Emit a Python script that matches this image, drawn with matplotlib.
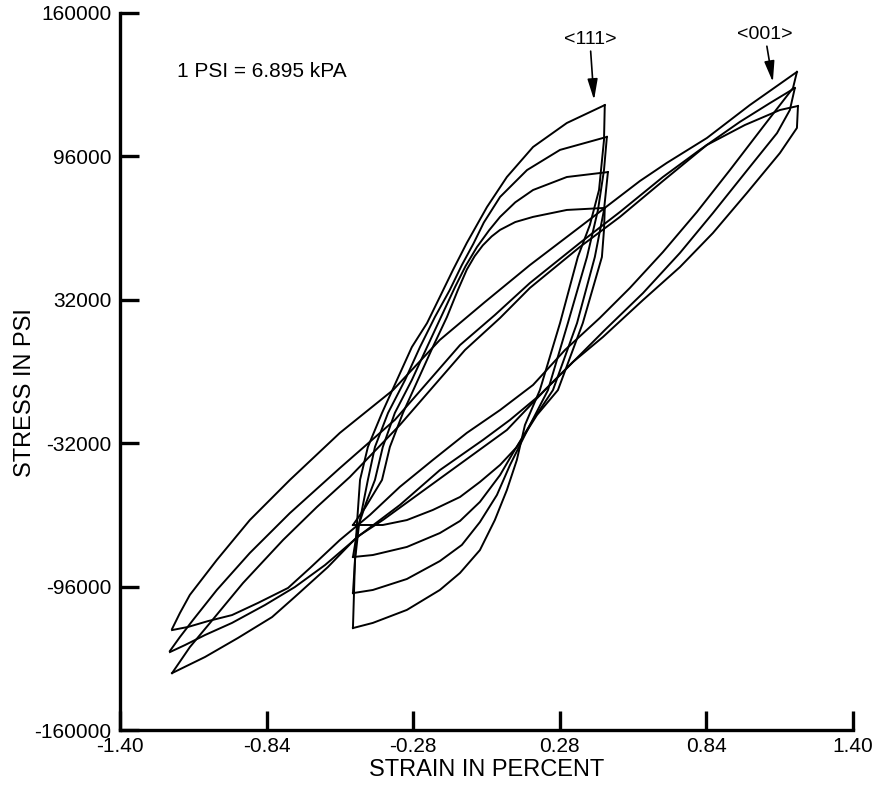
import matplotlib
matplotlib.use("Agg")
import matplotlib.pyplot as plt

plt.rcParams["font.family"] = ["Liberation Sans", "DejaVu Sans"]
plt.rcParams["axes.unicode_minus"] = False

# axis ticks
x_ticks = [-1.40, -0.84, -0.28, 0.28, 0.84, 1.40]
x_tick_labels = ["-1.40", "-0.84", "-0.28", "0.28", "0.84", "1.40"]
y_ticks = [-160000, -96000, -32000, 32000, 96000, 160000]
y_tick_labels = ["-160000", "-96000", "-32000", "32000", "96000", "160000"]

# <111> loops, loading branches (lower tip -> upper tip), strain in %, stress in psi
strain_111_up_1 = [-0.510, -0.506, -0.502, -0.495, -0.483, -0.453, -0.399, -0.342, -0.285,
                   -0.227, -0.178, -0.128, -0.075, 0.002, 0.078, 0.178, 0.307, 0.452]
stress_111_up_1 = [-114500, -98900, -82800, -68500, -48400, -33700, -18500, -3800, 10900,
                   21600, 33300, 45300, 57400, 73400, 86800, 100200, 110900, 118900]
strain_111_up_2 = [-0.510, -0.502, -0.487, -0.453, -0.426, -0.376, -0.311, -0.254, -0.197,
                   -0.140, -0.094, -0.050, -0.010, 0.052, 0.155, 0.281, 0.460]
stress_111_up_2 = [-98900, -84100, -68500, -48400, -33700, -18500, -3800, 10900, 24300,
                   36400, 47500, 57000, 66500, 77900, 89900, 98900, 104700]
strain_111_up_3 = [-0.510, -0.491, -0.460, -0.426, -0.396, -0.350, -0.285, -0.227, -0.170,
                   -0.120, -0.080, -0.036, 0.010, 0.052, 0.110, 0.178, 0.307, 0.464]
stress_111_up_3 = [-82800, -69400, -58700, -48400, -33700, -18500, -3800, 10900, 25200,
                   37700, 47000, 55600, 63000, 69000, 75500, 81000, 86800, 89000]
strain_111_up_4 = [-0.510, -0.464, -0.399, -0.369, -0.319, -0.262, -0.205, -0.151, -0.109,
                   -0.075, -0.045, -0.014, 0.020, 0.052, 0.110, 0.178, 0.307, 0.452]
stress_111_up_4 = [-68500, -60900, -48400, -33700, -18500, -3800, 10900, 24300, 36400,
                   45500, 51500, 56300, 60300, 63200, 66700, 69000, 72100, 73000]

# <111> loops, unloading branches (upper tip -> lower tip)
strain_111_down_1 = [0.452, 0.449, 0.430, 0.395, 0.349, 0.281, 0.204, 0.147, 0.116,
                     0.078, 0.032, -0.025, -0.101, -0.178, -0.304, -0.434, -0.510]
stress_111_down_1 = [118900, 103300, 81000, 65400, 51100, 21600, -8300, -23900, -39500,
                     -52900, -66300, -79700, -89900, -97500, -106400, -112200, -114500]
strain_111_down_2 = [0.460, 0.449, 0.426, 0.384, 0.311, 0.235, 0.166, 0.090, 0.040,
                     -0.025, -0.094, -0.178, -0.304, -0.434, -0.510]
stress_111_down_2 = [104700, 89900, 72100, 51100, 21600, -8300, -23900, -41700, -55100,
                     -67200, -77400, -84600, -92600, -97500, -98900]
strain_111_down_3 = [0.464, 0.449, 0.414, 0.346, 0.254, 0.178, 0.101, 0.052, -0.025,
                     -0.101, -0.178, -0.304, -0.434, -0.510]
stress_111_down_3 = [89000, 72100, 51100, 21600, -8300, -21600, -36400, -46200, -58200,
                     -66700, -72100, -78300, -81900, -82800]
strain_111_down_4 = [0.452, 0.449, 0.441, 0.368, 0.273, 0.193, 0.116, 0.052, -0.025,
                     -0.101, -0.205, -0.304, -0.396, -0.510]
stress_111_down_4 = [73000, 63200, 51100, 21600, -8300, -19400, -33700, -41700, -49300,
                     -56000, -61800, -66300, -68500, -68500]

# <001> loops, loading branches
strain_001_up_1 = [-1.201, -1.171, -1.133, -1.030, -0.904, -0.751, -0.560, -0.357, -0.178,
                   -0.006, 0.166, 0.357, 0.586, 0.689, 0.842, 1.006, 1.186]
stress_001_up_1 = [-114900, -107800, -99700, -84100, -66300, -48400, -27400, -8300, 14100,
                   31000, 47500, 64500, 85000, 93100, 104200, 118900, 133700]
strain_001_up_2 = [-1.209, -1.171, -1.121, -1.030, -0.904, -0.751, -0.560, -0.350, -0.101,
                   0.032, 0.166, 0.357, 0.510, 0.674, 0.815, 0.968, 1.083, 1.178]
stress_001_up_2 = [-124700, -118500, -110900, -97500, -81000, -63200, -43100, -21600, 11800,
                   25200, 39500, 57400, 71200, 86800, 98900, 111400, 119800, 126500]
strain_001_up_3 = [-1.201, -1.133, -1.056, -0.930, -0.777, -0.648, -0.522, -0.331, -0.082,
                   0.052, 0.166, 0.357, 0.510, 0.674, 0.842, 0.987, 1.121, 1.190]
stress_001_up_3 = [-134600, -123000, -112200, -94400, -75200, -60500, -47100, -23900, 9600,
                   23900, 37300, 55600, 69000, 85000, 101100, 110000, 116700, 118500]

# <001> loops, unloading branches
strain_001_down_1 = [1.186, 1.171, 1.056, 0.930, 0.804, 0.674, 0.548, 0.433, 0.300, 0.178,
                     0.052, -0.075, -0.205, -0.331, -0.445, -0.560, -0.674, -0.758, -0.873,
                     -0.972, -1.064, -1.140, -1.201]
stress_001_down_1 = [133700, 126500, 109100, 89900, 71200, 53300, 37300, 23900, 9600, -6000,
                     -17200, -27400, -39500, -51500, -64000, -75200, -87700, -96600, -103300,
                     -108700, -111400, -114000, -115400]
strain_001_down_2 = [1.178, 1.159, 1.110, 1.006, 0.865, 0.739, 0.598, 0.452, 0.319, 0.204,
                     0.090, -0.014, -0.178, -0.331, -0.483, -0.617, -0.732, -0.846, -0.972,
                     -1.075, -1.152, -1.209]
stress_001_down_2 = [126500, 116700, 106400, 91300, 70700, 52900, 35000, 18500, 2900, -10500,
                     -21600, -30600, -44000, -59600, -73000, -86400, -96200, -104200, -112200,
                     -117600, -122100, -125200]
strain_001_down_3 = [1.190, 1.186, 1.121, 0.995, 0.865, 0.739, 0.598, 0.445, 0.330, 0.223,
                     0.078, -0.159, -0.396, -0.495, -0.606, -0.732, -0.819, -0.949, -1.075,
                     -1.201]
stress_001_down_3 = [118500, 108700, 97500, 79700, 61800, 46600, 31900, 15400, 4200, -8300,
                     -26100, -46200, -66300, -73900, -87300, -100600, -109600, -118900, -127400,
                     -134600]

branches = [
    (strain_111_up_1, stress_111_up_1), (strain_111_up_2, stress_111_up_2),
    (strain_111_up_3, stress_111_up_3), (strain_111_up_4, stress_111_up_4),
    (strain_111_down_1, stress_111_down_1), (strain_111_down_2, stress_111_down_2),
    (strain_111_down_3, stress_111_down_3), (strain_111_down_4, stress_111_down_4),
    (strain_001_up_1, stress_001_up_1), (strain_001_up_2, stress_001_up_2),
    (strain_001_up_3, stress_001_up_3),
    (strain_001_down_1, stress_001_down_1), (strain_001_down_2, stress_001_down_2),
    (strain_001_down_3, stress_001_down_3),
]

fig = plt.figure(figsize=(8.75, 7.87), dpi=100)
ax = fig.add_axes([0.1371, 0.0724, 0.8377, 0.9111])

for xs, ys in branches:
    ax.plot(xs, ys, color="black", lw=1.4, solid_joinstyle="round")

ax.set_xlim(-1.40, 1.40)
ax.set_ylim(-160000, 160000)
ax.set_xticks(x_ticks)
ax.set_xticklabels(x_tick_labels)
ax.set_yticks(y_ticks)
ax.set_yticklabels(y_tick_labels)
ax.tick_params(direction="in", length=14, width=2.4, labelsize=15, pad=6)
ax.tick_params(axis="x", pad=5)

for side in ["top", "right"]:
    ax.spines[side].set_visible(False)
for side in ["left", "bottom"]:
    ax.spines[side].set_linewidth(2.4)

ax.set_xlabel("STRAIN IN PERCENT", fontsize=17)
ax.xaxis.set_label_coords(0.5, -0.056)
ax.xaxis.label.set_va("center")
ax.set_ylabel("STRESS IN PSI", fontsize=17)
ax.yaxis.set_label_coords(-0.13, 0.47)
ax.yaxis.label.set_va("center")

ax.text(-1.182, 133700, "1 PSI = 6.895 kPA", fontsize=15, va="center", ha="left")

arrow = dict(arrowstyle="-|>,head_length=0.9,head_width=0.22", color="black",
             lw=1.2, shrinkA=0, shrinkB=0)
ax.annotate("<111>", xy=(0.411, 121200), xytext=(0.395, 148000), fontsize=14,
            ha="center", va="center", arrowprops=arrow)
ax.annotate("<001>", xy=(1.094, 129200), xytext=(1.064, 150200), fontsize=14,
            ha="center", va="center", arrowprops=arrow)

fig.savefig("out.png", dpi=100)
